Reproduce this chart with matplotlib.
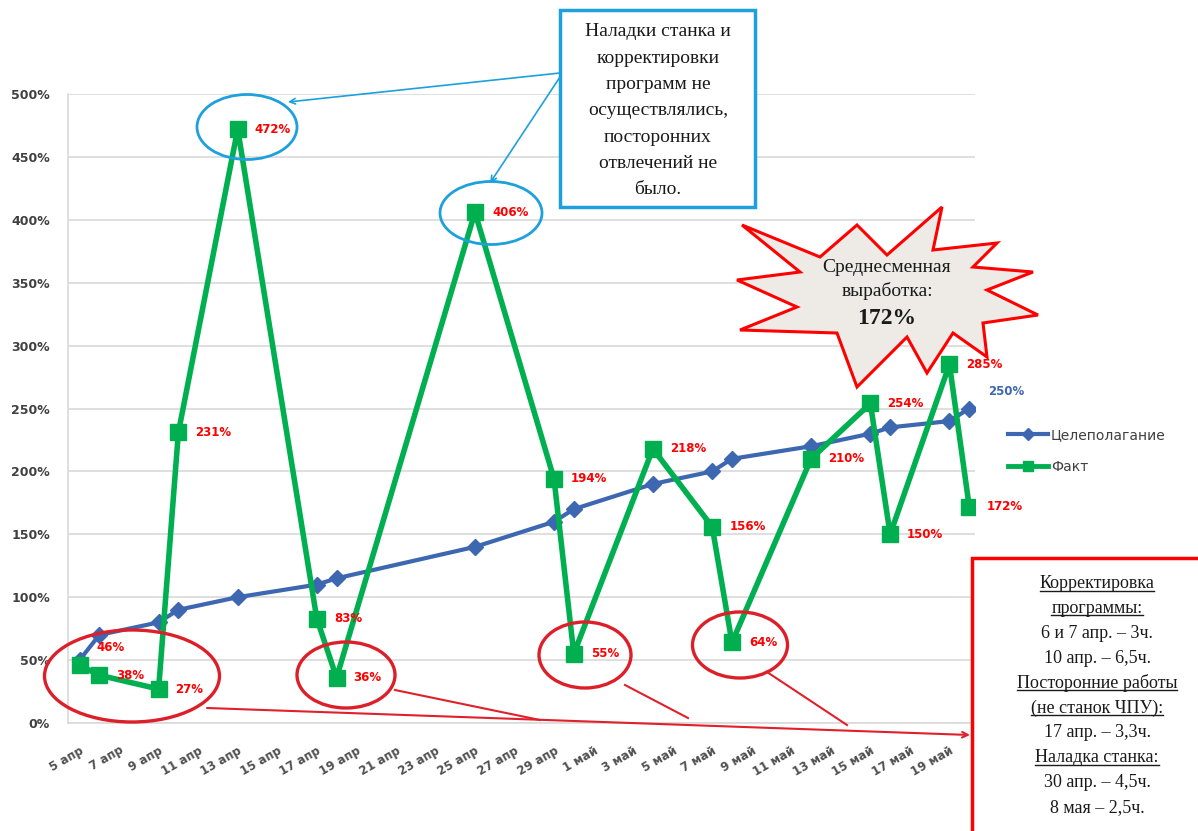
import numpy as np
import matplotlib.pyplot as plt
from matplotlib.patches import Ellipse, Rectangle, Polygon
from matplotlib.lines import Line2D

W, H = 1198, 831

# смены и выработка, %
daty = np.array(['2010-04-05', '2010-04-06', '2010-04-09', '2010-04-10', '2010-04-13',
                 '2010-04-17', '2010-04-18', '2010-04-25', '2010-04-29', '2010-04-30',
                 '2010-05-04', '2010-05-07', '2010-05-08', '2010-05-12', '2010-05-15',
                 '2010-05-16', '2010-05-19', '2010-05-20'], dtype='datetime64[D]')
cel = [50, 70, 80, 90, 100, 110, 115, 140, 160, 170, 190, 200, 210, 220, 230, 235, 240, 250]
fakt = [46, 38, 27, 231, 472, 83, 36, 406, 194, 55, 218, 156, 64, 210, 254, 150, 285, 172]

tick_daty = np.arange(np.datetime64('2010-04-05'), np.datetime64('2010-05-21'), 2)
tick_labels = ['5 апр', '7 апр', '9 апр', '11 апр', '13 апр', '15 апр', '17 апр', '19 апр',
               '21 апр', '23 апр', '25 апр', '27 апр', '29 апр', '1 май', '3 май', '5 май',
               '7 май', '9 май', '11 май', '13 май', '15 май', '17 май', '19 май']
y_ticks = [0, 50, 100, 150, 200, 250, 300, 350, 400, 450, 500]

blue = '#3D67B1'
green = '#00B050'
red = '#FF0000'
lblue = '#1EA0DC'
grey = '#404040'

fig = plt.figure(figsize=(W / 100, H / 100), dpi=100)
ax = fig.add_axes([68 / W, 1 - 723 / H, (975 - 68) / W, (723 - 94) / H])

ax.plot(daty, cel, color=blue, lw=3, marker='D', ms=8.5, zorder=3)
ax.plot(daty, fakt, color=green, lw=4, marker='s', ms=12, zorder=4)

for i, v in enumerate(fakt):
    dy = 18 if i == 0 else 0
    ax.annotate(f'{v}%', (daty[i], v), xytext=(17, dy), textcoords='offset pixels',
                ha='left', va='center', color=red, fontsize=8.5, fontweight='bold', zorder=6)
ax.annotate(f'{cel[-1]}%', (daty[-1], cel[-1]), xytext=(19, 17), textcoords='offset pixels',
            ha='left', va='center', color=blue, fontsize=8.5, fontweight='bold',
            annotation_clip=False)

ax.set_ylim(0, 500)
ax.set_xlim(np.datetime64('2010-04-04T10'), np.datetime64('2010-05-20T07'))
ax.set_yticks(y_ticks)
ax.set_yticklabels([f'{v}%' for v in y_ticks], fontsize=9, fontweight='bold', color=grey)
ax.set_xticks(tick_daty)
ax.set_xticklabels(tick_labels, rotation=30, ha='right', va='top', rotation_mode='anchor',
                   fontsize=8.5, fontweight='bold', color='#505050')
ax.tick_params(length=0)
ax.tick_params(axis='y', pad=13)
ax.tick_params(axis='x', pad=15)
ax.grid(axis='y', color='#D9D9D9', lw=1.2)
ax.set_axisbelow(True)
for s in ['top', 'right']:
    ax.spines[s].set_visible(False)
for s in ['left', 'bottom']:
    ax.spines[s].set_color('#D9D9D9')
    ax.spines[s].set_linewidth(1.2)

h1 = Line2D([], [], color=blue, lw=3, marker='D', ms=6)
h2 = Line2D([], [], color=green, lw=3.5, marker='s', ms=7)
fig.legend([h1, h2], ['Целеполагание', 'Факт'], loc='center left',
           bbox_to_anchor=(1008 / W, 1 - 451 / H), frameon=False, fontsize=10,
           handlelength=2.9, handletextpad=0.2, labelspacing=1.3, borderpad=0,
           borderaxespad=0, labelcolor=grey)

# выноски поверх графика, в пикселях
ov = fig.add_axes([0, 0, 1, 1], zorder=10)
ov.set_xlim(0, W)
ov.set_ylim(H, 0)
ov.axis('off')

serif = 'Liberation Serif'

# синяя рамка
ov.add_patch(Rectangle((560, 10), 195, 197, fc='white', ec=lblue, lw=2.5))
blue_txt = ['Наладки станка и', 'корректировки', 'программ не', 'осуществлялись,',
            'посторонних', 'отвлечений не', 'было.']
for i, s in enumerate(blue_txt):
    ov.text(658, 32 + i * 26.3, s, ha='center', va='center', fontsize=14,
            family=serif, color='#1A1A1A')
ov.add_patch(Ellipse((247, 127), 100, 65, fill=False, ec=lblue, lw=2))
ov.add_patch(Ellipse((491, 213), 102, 63, fill=False, ec=lblue, lw=2))
arr_b = dict(arrowstyle='->', color=lblue, lw=1.2, shrinkA=0, shrinkB=0)
ov.annotate('', xy=(288, 102), xytext=(560, 73), arrowprops=arr_b)
ov.annotate('', xy=(490, 183), xytext=(560, 77), arrowprops=arr_b)

# красные овалы
for cx, cy, w, h in [(132, 676, 175, 92), (346, 675, 98, 66), (585, 655, 92, 66), (740, 645, 95, 66)]:
    ov.add_patch(Ellipse((cx, cy), w, h, fill=False, ec='#DC1F28', lw=2.4))
ov.annotate('', xy=(970, 735), xytext=(207, 708),
            arrowprops=dict(arrowstyle='->', color='#E0202A', lw=1.5, shrinkA=0, shrinkB=0))
for x0, y0, x1, y1 in [(395, 690, 540, 720), (625, 685, 688, 718), (767, 672, 847, 725)]:
    ov.plot([x0, x1], [y0, y1], color='#E0202A', lw=1.5)

# звезда
star = [(742, 225), (820, 257), (857, 225), (887, 255), (942, 207), (933, 250), (997, 243),
        (973, 267), (1033, 272), (987, 290), (1038, 315), (983, 323), (987, 357), (953, 333),
        (927, 373), (907, 337), (857, 387), (837, 333), (740, 330), (797, 307), (737, 280),
        (800, 272)]
ov.add_patch(Polygon(star, closed=True, fc='#EEEBE7', ec=red, lw=2.2))
ov.text(887, 268, 'Среднесменная', ha='center', va='center', fontsize=14, family=serif, color='#1A1A1A')
ov.text(887, 291, 'выработка:', ha='center', va='center', fontsize=14, family=serif, color='#1A1A1A')
ov.text(887, 318, '172%', ha='center', va='center', fontsize=17, family=serif,
        fontweight='bold', color='#1A1A1A')

# красная рамка с пояснениями
ov.add_patch(Rectangle((972, 558), 300, 320, fc='white', ec=red, lw=2.5))
red_txt = [('Корректировка', True), ('программы:', True), ('6 и 7 апр. – 3ч.', False),
           ('10 апр. – 6,5ч.', False), ('Посторонние работы', True), ('(не станок ЧПУ):', True),
           ('17 апр. – 3,3ч.', False), ('Наладка станка:', True), ('30 апр. – 4,5ч.', False),
           ('8 мая – 2,5ч.', False)]
under = []
for i, (s, u) in enumerate(red_txt):
    t = ov.text(1097, 588 + i * 24.9, s, ha='center', va='baseline', fontsize=13,
                family=serif, color='#1A1A1A')
    if u:
        under.append(t)

fig.canvas.draw()
r = fig.canvas.get_renderer()
inv = ov.transData.inverted()
for t in under:
    bb = t.get_window_extent(r)
    xa, _ = inv.transform((bb.x0, bb.y0))
    xb, _ = inv.transform((bb.x1, bb.y0))
    y = t.get_position()[1] + 2.5
    ov.plot([xa, xb], [y, y], color='#1A1A1A', lw=1.0)

fig.savefig('out.png', dpi=100)
